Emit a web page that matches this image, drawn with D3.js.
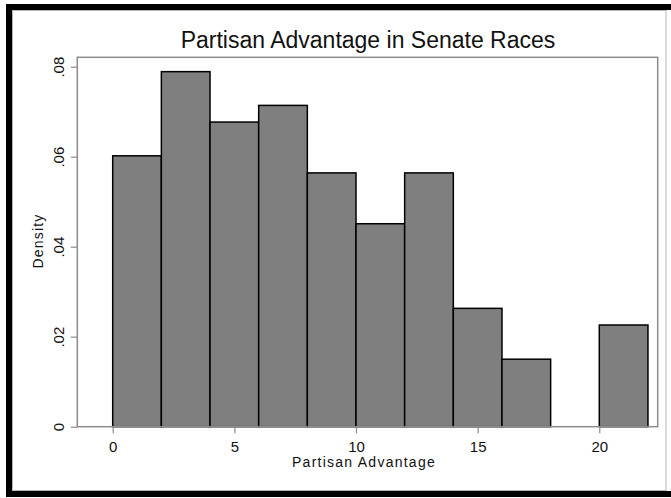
<!DOCTYPE html>
<html>
<head>
<meta charset="utf-8">
<script src="https://cdn.jsdelivr.net/npm/d3@7"></script>
<style>
  html, body { margin: 0; padding: 0; background: #fff; }
  svg { display: block; font-family: "Liberation Sans", Arial, Helvetica, sans-serif; }
</style>
</head>
<body>
<svg id="chart" width="671" height="498"></svg>
<script>
// Histogram of partisan advantage, bins of width 2 starting at 0
const binStarts = [0, 2, 4, 6, 8, 10, 12, 14, 16, 18, 20];
const densities = [0.0602, 0.0789, 0.0677, 0.0714, 0.0564, 0.0451, 0.0564, 0.0263, 0.0150, 0, 0.0226];
const binWidth = 2;

const xTicks = [0, 5, 10, 15, 20];
const yTicks = [0, 0.02, 0.04, 0.06, 0.08];
const yTickLabels = ["0", ".02", ".04", ".06", ".08"];

const titleText = "Partisan Advantage in Senate Races";
const xTitle = "Partisan Advantage";
const yTitle = "Density";

const svg = d3.select("#chart");
const W = 671, H = 498;

// plot region box
const box = { left: 77.3, top: 57.3, right: 657.7, bottom: 426.7 };

const x = d3.scaleLinear().domain([0, 20]).range([112.7, 599.3]);
const y = d3.scaleLinear().domain([0, 0.08]).range([426.7, 66.7]);

// outer frame
svg.append("rect").attr("x", 0).attr("y", 0).attr("width", W).attr("height", H).attr("fill", "#fff");
svg.append("rect").attr("x", 12.5).attr("y", 10.5).attr("width", 653.5).attr("height", 480)
  .attr("fill", "none").attr("stroke", "#b5b5b5").attr("stroke-width", 1);
svg.append("rect").attr("x", 6).attr("y", 4).attr("width", W - 6).attr("height", 6).attr("fill", "#000");
svg.append("rect").attr("x", 6).attr("y", 4).attr("width", 6).attr("height", 493).attr("fill", "#000");
svg.append("rect").attr("x", 6).attr("y", 491).attr("width", W - 6).attr("height", 6).attr("fill", "#000");

// bars
svg.append("g").selectAll("rect")
  .data(binStarts.map((s, i) => ({ s, d: densities[i] })).filter(b => b.d > 0))
  .join("rect")
  .attr("x", b => x(b.s))
  .attr("y", b => y(b.d))
  .attr("width", b => x(b.s + binWidth) - x(b.s))
  .attr("height", b => y(0) - y(b.d))
  .attr("fill", "#7f7f7f")
  .attr("stroke", "#000")
  .attr("stroke-width", 1.5);

// plot region border
svg.append("rect")
  .attr("x", box.left).attr("y", box.top)
  .attr("width", box.right - box.left).attr("height", box.bottom - box.top)
  .attr("fill", "none").attr("stroke", "#8c8c8c").attr("stroke-width", 1.5);

// y axis
const yAxis = svg.append("g")
  .attr("transform", `translate(${box.left},0)`)
  .call(d3.axisLeft(y).tickValues(yTicks).tickFormat((d, i) => yTickLabels[i]).tickSize(6.5));
yAxis.select(".domain").remove();
yAxis.selectAll(".tick line").attr("stroke", "#8c8c8c").attr("stroke-width", 1.2);
yAxis.selectAll(".tick text")
  .attr("x", null).attr("dy", null)
  .attr("transform", "translate(-13.8,0) rotate(-90)")
  .attr("text-anchor", "middle")
  .attr("fill", "#111")
  .style("font-size", "15px")
  .style("font-family", "'Liberation Sans', Arial, sans-serif");

// x axis
const xAxis = svg.append("g")
  .attr("transform", `translate(0,${box.bottom})`)
  .call(d3.axisBottom(x).tickValues(xTicks).tickFormat(d3.format("d")).tickSize(6.5));
xAxis.select(".domain").remove();
xAxis.selectAll(".tick line").attr("stroke", "#8c8c8c").attr("stroke-width", 1.2);
xAxis.selectAll(".tick text")
  .attr("y", 25.8).attr("dy", null)
  .attr("fill", "#111")
  .style("font-size", "15px")
  .style("font-family", "'Liberation Sans', Arial, sans-serif");

// titles
svg.append("text")
  .attr("x", 368).attr("y", 48.3)
  .attr("text-anchor", "middle")
  .attr("fill", "#111")
  .style("font-size", "23px")
  .text(titleText);

svg.append("text")
  .attr("x", 364).attr("y", 467.2)
  .attr("text-anchor", "middle")
  .attr("fill", "#111")
  .style("font-size", "14px")
  .style("letter-spacing", "1.25px")
  .text(xTitle);

svg.append("text")
  .attr("transform", "translate(43.3,241) rotate(-90)")
  .attr("text-anchor", "middle")
  .attr("fill", "#111")
  .style("font-size", "14px")
  .style("letter-spacing", "1.2px")
  .text(yTitle);
</script>
</body>
</html>
